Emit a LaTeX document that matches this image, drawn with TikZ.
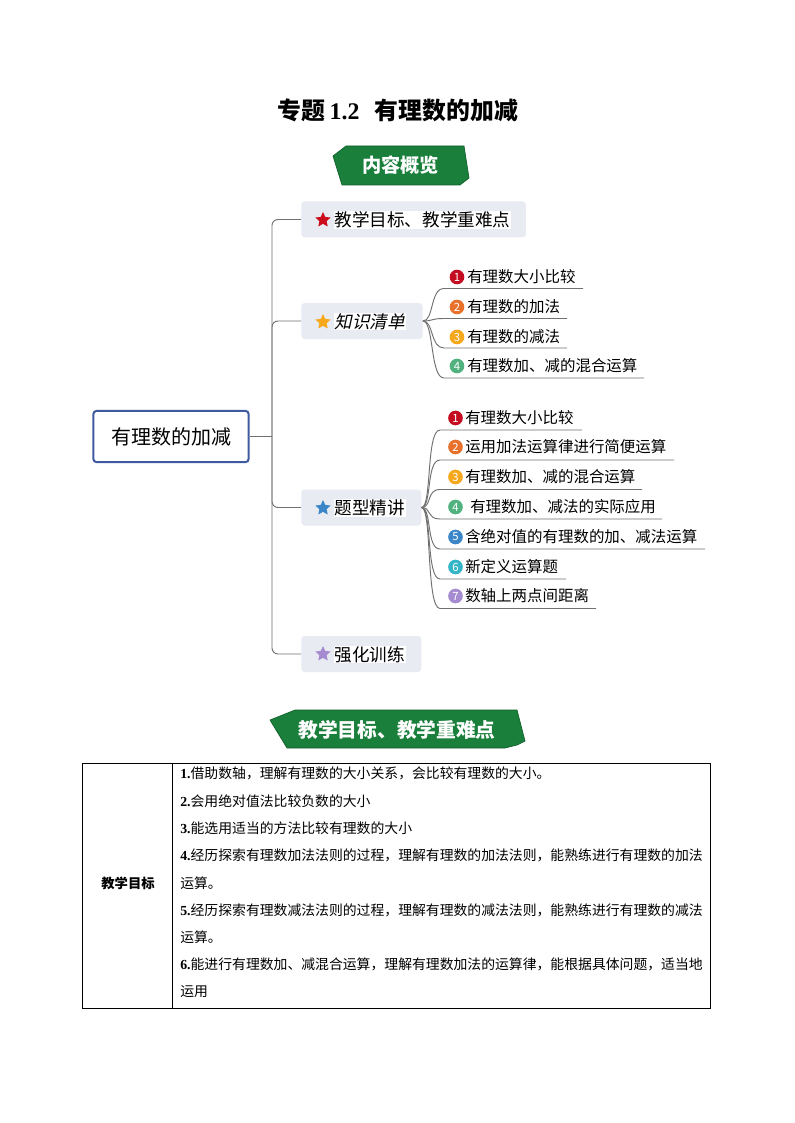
\documentclass[tikz,border=0pt]{standalone}
\usepackage{fontspec}
\usetikzlibrary{shapes.geometric}
\setmainfont{Noto Sans CJK SC}
\newfontfamily\cjkslant[FakeSlant=0.22]{Noto Sans CJK SC}
\newfontfamily\numfont{Liberation Serif}
\newcommand{\nb}[1]{{\numfont\bfseries #1}}
\definecolor{bannergreen}{HTML}{1B7F3C}
\definecolor{bannerdark}{HTML}{0F5F2A}
\definecolor{boxfill}{HTML}{E9EBF3}
\definecolor{rootblue}{HTML}{3F5AA0}
\definecolor{linkgray}{HTML}{707070}
\definecolor{cA}{HTML}{C40D20}
\definecolor{cB}{HTML}{E8722C}
\definecolor{cC}{HTML}{F5A81C}
\definecolor{cD}{HTML}{52B27F}
\definecolor{cE}{HTML}{3A86C8}
\definecolor{cF}{HTML}{35B5C8}
\definecolor{cG}{HTML}{A58BD0}
\tikzset{
  x=0.75pt,y=-0.75pt,
  link/.style={draw=linkgray,line width=0.7pt,rounded corners=4.5pt},
  curve/.style={draw=linkgray,line width=0.7pt},
  branchbox/.style={fill=boxfill,rounded corners=2.5pt,inner sep=0pt,minimum height=27pt,anchor=west},
  branchtext/.style={fill=white,inner sep=0.5pt,anchor=west,font=\fontsize{13.2pt}{15pt}\selectfont},
  startag/.style={star,star points=5,star point ratio=2.1,inner sep=0pt,minimum size=12pt},
  numdot/.style={circle,inner sep=0pt,minimum size=11pt,text=white,font=\fontsize{8.5pt}{9pt}\selectfont},
  itemtext/.style={anchor=west,inner sep=0pt,font=\fontsize{11.6pt}{14pt}\selectfont},
  banner/.style={fill=bannergreen,draw=bannerdark,line width=0.5pt},
  bannertext/.style={text=white,inner sep=0pt,font=\fontsize{14.4pt}{16pt}\selectfont\bfseries},
  cell/.style={anchor=west,inner sep=0pt,font=\fontsize{10.38pt}{12pt}\selectfont},
}
\begin{document}
\begin{tikzpicture}
\useasboundingbox (0,0) rectangle (794,1123);
\fill[white] (0,0) rectangle (794,1123);
% title
\node[anchor=west,inner sep=0pt,font=\fontsize{17.9pt}{20pt}\selectfont\bfseries] (title) at (277,110) {专题\hspace{3.5pt}{\numfont\bfseries 1.2}\hspace{11.5pt}有理数的加减};
% banner 1
\filldraw[banner] (333,156) -- (346,146) -- (464,146) -- (469,178) -- (460,185) -- (342,185) -- cycle;
\node[bannertext] (b1) at (400.5,165.5) {内容概览};
% root
\node[draw=rootblue,line width=1.5pt,rounded corners=2.5pt,fill=white,minimum width=116.5pt,minimum height=38.5pt,inner sep=0pt,font=\fontsize{15pt}{18pt}\selectfont] (root) at (171,436.5) {有理数的加减};
% branches
\node[branchbox,minimum width=168.5pt] (g1) at (301,219.5) {};
\node[branchbox,minimum width=91pt] (g2) at (301,321) {};
\node[branchbox,minimum width=90pt] (g3) at (301,507.5) {};
\node[branchbox,minimum width=90pt] (g4) at (301,654) {};
\node[branchtext] (t1) at (333.5,220) {教学目标、教学重难点};
\node[branchtext,font=\fontsize{13.2pt}{15pt}\cjkslant] (t2) at (333.5,321.5) {知识清单};
\node[branchtext] (t3) at (333.5,508) {题型精讲};
\node[branchtext] (t4) at (333.5,654.5) {强化训练};
\node[startag,fill=cA!90!red] (s1) at (323,220) {};
\node[startag,fill=cC] (s2) at (323,322) {};
\node[startag,fill=cE] (s3) at (323,508) {};
\node[startag,fill=cG] (s4) at (323,654) {};
% trunk
\coordinate (tr) at (272,436.5);
\draw[link] (root.east) -- (tr);
\draw[link] (g1.west) -| (tr);
\draw[link] (g4.west) -| (tr);
\draw[link] (g2.west) -| (tr);
\draw[link] (g3.west) -| (tr);
% group 1
\foreach \n/\d/\col/\yt/\yu/\xe/\txt in {
 1/1/cA/277/288.5/583/有理数大小比较,
 2/2/cB/307/318.5/567/有理数的加法,
 3/3/cC/337/348/567/有理数的减法,
 4/4/cD/366/378/644/有理数加、减的混合运算}{
  \node[numdot,fill=\col] (ka\n) at (457,\yt) {\d};
  \node[itemtext] (pa\n) at (467,\yt) {\txt};
  \coordinate (sa\n) at (444,\yu);
  \coordinate (ea\n) at (\xe,\yu);
  \draw[curve] (g2.east) .. controls (434,321) and (430,\yu) .. (sa\n) -- (ea\n);
}
% group 2
\foreach \n/\d/\col/\yt/\yu/\xe/\xt/\txt in {
 1/1/cA/418/430/582/465/有理数大小比较,
 2/2/cB/447/460/674/465/运用加法运算律进行简便运算,
 3/3/cC/477/489.5/642/465/有理数加、减的混合运算,
 4/4/cD/507/519/662/470/有理数加、减法的实际应用,
 5/5/cE/537/549/705/465/含绝对值的有理数的加、减法运算,
 6/6/cF/567/579/566/465/新定义运算题,
 7/7/cG/596/608.5/596/465/数轴上两点间距离}{
  \node[numdot,fill=\col] (kb\n) at (455.5,\yt) {\d};
  \node[itemtext] (pb\n) at (\xt,\yt) {\txt};
  \coordinate (sb\n) at (440,\yu);
  \coordinate (eb\n) at (\xe,\yu);
  \draw[curve] (g3.east) .. controls (432,507.5) and (426,\yu) .. (sb\n) -- (eb\n);
}
% banner 2
\filldraw[banner] (270,720) -- (295,710) -- (517,710) -- (525,741) -- (517,745) -- (505,748) -- (287,748) -- cycle;
\node[bannertext,font=\fontsize{14.8pt}{16pt}\selectfont\bfseries] (b2) at (397,730) {教学目标、教学重难点};
% table
\node[draw=black,line width=0.75pt,inner sep=0pt,minimum width=470.6pt,minimum height=183.9pt,anchor=north west] (tbl) at (82.2,763.2) {};
\coordinate (ct) at (172.5,763.5);
\coordinate (cb) at (172.5,1009);
\draw[line width=0.75pt] (ct) -- (cb);
\node[inner sep=0pt,font=\fontsize{10pt}{12pt}\selectfont\bfseries] (head) at (128,883) {教学目标};
\node[cell] (l1) at (180,773.5) {\nb{1.}借助数轴，理解有理数的大小关系，会比较有理数的大小。};
\node[cell] (l2) at (180,801) {\nb{2.}会用绝对值法比较负数的大小};
\node[cell] (l3) at (180,828.5) {\nb{3.}能选用适当的方法比较有理数的大小};
\node[cell] (l4) at (180,855.5) {\nb{4.}经历探索有理数加法法则的过程，理解有理数的加法法则，能熟练进行有理数的加法};
\node[cell] (l5) at (180,883) {运算。};
\node[cell] (l6) at (180,910.5) {\nb{5.}经历探索有理数减法法则的过程，理解有理数的减法法则，能熟练进行有理数的减法};
\node[cell] (l7) at (180,937.5) {运算。};
\node[cell] (l8) at (180,964.5) {\nb{6.}能进行有理数加、减混合运算，理解有理数加法的运算律，能根据具体问题，适当地};
\node[cell] (l9) at (180,992) {运用};
\end{tikzpicture}
\end{document}
